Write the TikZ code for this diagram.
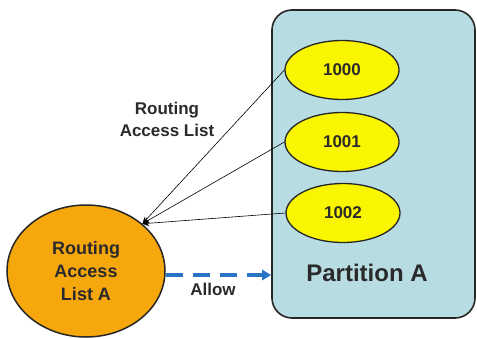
\documentclass[tikz,border=0pt]{standalone}
\usepackage{fontspec}
\setmainfont{Liberation Sans}
\usetikzlibrary{shapes.geometric,arrows.meta}

\definecolor{partblue}{HTML}{B7DCE2}
\definecolor{aclorange}{HTML}{F6A70C}
\definecolor{idyellow}{HTML}{FAF500}
\definecolor{allowblue}{HTML}{2A74C6}
\definecolor{textgray}{HTML}{2A2A2A}

\begin{document}
\begin{tikzpicture}[x=1pt, y=-1pt,
  every node/.style={font=\bfseries, text=textgray},
  partbox/.style={draw=black!85, line width=1.6pt, fill=partblue, rounded corners=20pt,
    minimum width=203pt, minimum height=308pt},
  idnode/.style={ellipse, draw=black!85, line width=1.3pt, fill=idyellow,
    minimum width=114pt, minimum height=59pt, font=\bfseries\fontsize{17}{20}\selectfont},
  aclnode/.style={ellipse, draw=black!85, line width=1.5pt, fill=aclorange,
    minimum width=158pt, minimum height=132pt, align=center,
    font=\bfseries\fontsize{18}{23}\selectfont},
  link/.style={-{Stealth[length=7pt,width=6pt]}, line width=0.6pt, black},
  allowline/.style={-{Triangle[length=9pt,width=10pt]}, allowblue, line width=3.5pt,
    dash pattern=on 17pt off 10pt}
]
\useasboundingbox (0,0) rectangle (477,338);

% Partition
\node[partbox] (part) at (373.5,164) {};
\node[font=\bfseries\fontsize{24}{28}\selectfont] (part-label) at (367,273) {Partition A};

% IDs
\node[idnode] (id1000) at (342,70) {1000};
\node[idnode] (id1001) at (342,142) {1001};
\node[idnode] (id1002) at (343,213) {1002};

% Access list
\node[aclnode] (acl) at (86,271) {Routing\\Access\\List A};

% Links
\draw[link] (id1000.west) -- (acl.40);
\draw[link] (id1001.west) -- (acl.40);
\draw[link] (id1002.west) -- (acl.40);
\draw[allowline] (acl.east |- 0,275) -- (part.west |- 0,275);

% Labels
\node[align=center, font=\bfseries\fontsize{17}{22}\selectfont] (link-label) at (167,119) {Routing\\Access List};
\node[font=\bfseries\fontsize{17}{20}\selectfont] (allow-label) at (213,289) {Allow};

\end{tikzpicture}
\end{document}
